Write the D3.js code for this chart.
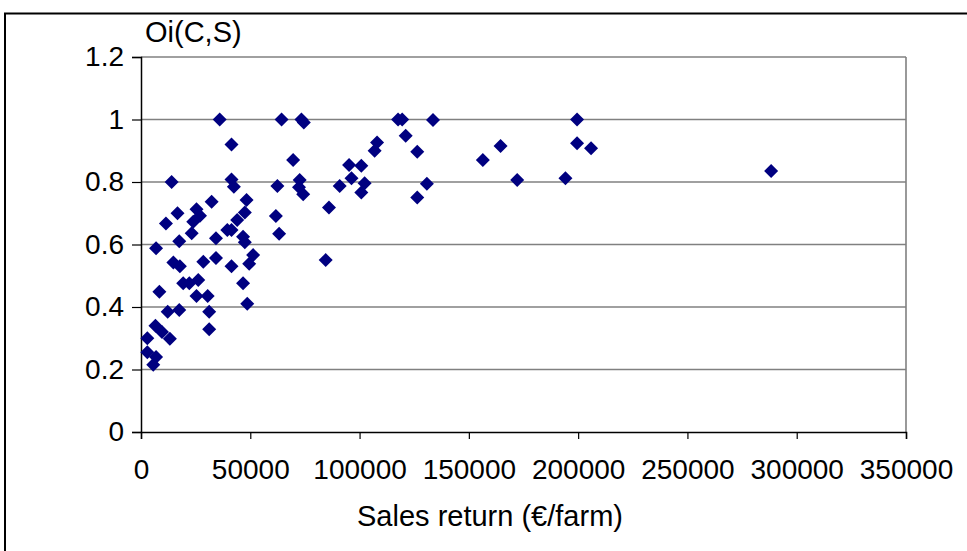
<!DOCTYPE html>
<html>
<head>
<meta charset="utf-8">
<script src="https://cdn.jsdelivr.net/npm/d3@7"></script>
<style>
  html, body { margin: 0; padding: 0; background: #fff; }
  svg { display: block; }
  text { font-family: "Liberation Sans", Arial, sans-serif; fill: #000; }
</style>
</head>
<body>
<svg id="chart" width="967" height="551"></svg>
<script>
// Sales return (€/farm)
const salesReturn = [
  2900, 2900, 5600, 6900, 6600, 9600, 13200, 6900, 8400, 11400,
  12200, 14000, 14800, 16700, 17500, 17800, 17500, 19300, 22100, 23200,
  23900, 25400, 26200, 25400, 27000, 28500, 30500, 31200, 31200, 32300,
  34300, 34300, 36000, 39500, 41400, 41400, 41400, 42500, 41400, 44000,
  46700, 47500, 47500, 48300, 46700, 48600, 49500, 51300, 61700, 62400,
  63200, 64300, 69600, 72600, 72300, 73400, 74500, 74200, 84500, 86000,
  90900, 95200, 96300, 100800, 102300, 100800, 106900, 108000, 117600, 119500,
  121100, 126400, 126400, 130800, 133600, 156400, 164500, 172100, 194200, 199500,
  199500, 205900, 288300
];
// Oi(C,S)
const oiCS = [
  0.30, 0.255, 0.215, 0.24, 0.34, 0.32, 0.298, 0.588, 0.449, 0.667,
  0.385, 0.80, 0.542, 0.70, 0.61, 0.53, 0.39, 0.476, 0.476, 0.636,
  0.673, 0.713, 0.486, 0.435, 0.692, 0.545, 0.435, 0.385, 0.329, 0.737,
  0.62, 0.557, 1.0, 0.646, 0.646, 0.92, 0.808, 0.785, 0.53, 0.678,
  0.625, 0.607, 0.702, 0.742, 0.476, 0.41, 0.538, 0.566, 0.691, 0.787,
  0.634, 1.0, 0.87, 0.806, 0.783, 1.0, 0.99, 0.761, 0.55, 0.718,
  0.787, 0.854, 0.812, 0.852, 0.796, 0.766, 0.90, 0.926, 1.0, 1.0,
  0.948, 0.897, 0.75, 0.794, 0.998, 0.87, 0.915, 0.806, 0.812, 1.0,
  0.924, 0.908, 0.835
];
const xTicks = [0, 50000, 100000, 150000, 200000, 250000, 300000, 350000];
const yTicks = [0, 0.2, 0.4, 0.6, 0.8, 1, 1.2];
const xTitle = "Sales return (€/farm)";
const yTitle = "Oi(C,S)";

const svg = d3.select("#chart");
svg.append("rect").attr("width", 967).attr("height", 551).attr("fill", "#fff");
// outer chart frame (cut off at right/bottom)
svg.append("rect")
  .attr("x", 5).attr("y", 13.5).attr("width", 1000).attr("height", 600)
  .attr("fill", "none").attr("stroke", "#000").attr("stroke-width", 2);

const x = d3.scaleLinear().domain([0, 350000]).range([141, 906]);
const y = d3.scaleLinear().domain([0, 1.2]).range([432, 57]);

// gridlines
svg.append("g").selectAll("line").data(yTicks.filter(d => d > 0)).join("line")
  .attr("x1", x(0)).attr("x2", x(350000))
  .attr("y1", d => y(d)).attr("y2", d => y(d))
  .attr("stroke", "#808080").attr("stroke-width", 1.6);
// right plot border
svg.append("line")
  .attr("x1", x(350000)).attr("x2", x(350000)).attr("y1", y(1.2)).attr("y2", y(0))
  .attr("stroke", "#808080").attr("stroke-width", 1.6);

// y axis
const yAxis = d3.axisLeft(y).tickValues(yTicks).tickSize(9).tickPadding(8)
  .tickFormat(d => d3.format("~g")(d));
const gy = svg.append("g").attr("transform", `translate(${x(0)},0)`).call(yAxis);
gy.select(".domain").attr("stroke", "#000").attr("stroke-width", 1.5);
gy.selectAll(".tick line").attr("stroke", "#000").attr("stroke-width", 1.2);
gy.selectAll(".tick text").attr("font-size", 28).attr("font-family", "Liberation Sans, Arial, sans-serif");

// x axis
const xAxis = d3.axisBottom(x).tickValues(xTicks).tickSize(7).tickPadding(20)
  .tickFormat(d => String(d));
const gx = svg.append("g").attr("transform", `translate(0,${y(0)})`).call(xAxis);
gx.select(".domain").attr("stroke", "#000").attr("stroke-width", 1.5);
gx.selectAll(".tick line").attr("stroke", "#000").attr("stroke-width", 1.2);
gx.selectAll(".tick text").attr("font-size", 28).attr("font-family", "Liberation Sans, Arial, sans-serif");

// points (diamonds)
const diamond = d3.symbol().type(d3.symbolSquare).size(98);
svg.append("g").selectAll("path").data(salesReturn.map((v, i) => [v, oiCS[i]])).join("path")
  .attr("d", diamond)
  .attr("transform", d => `translate(${x(d[0])},${y(d[1])}) rotate(45)`)
  .attr("fill", "#000080");

// titles
svg.append("text").attr("x", 490).attr("y", 526).attr("text-anchor", "middle")
  .attr("font-size", 29).text(xTitle);
svg.append("text").attr("x", 145).attr("y", 42).attr("text-anchor", "start")
  .attr("font-size", 29).text(yTitle);
</script>
</body>
</html>
